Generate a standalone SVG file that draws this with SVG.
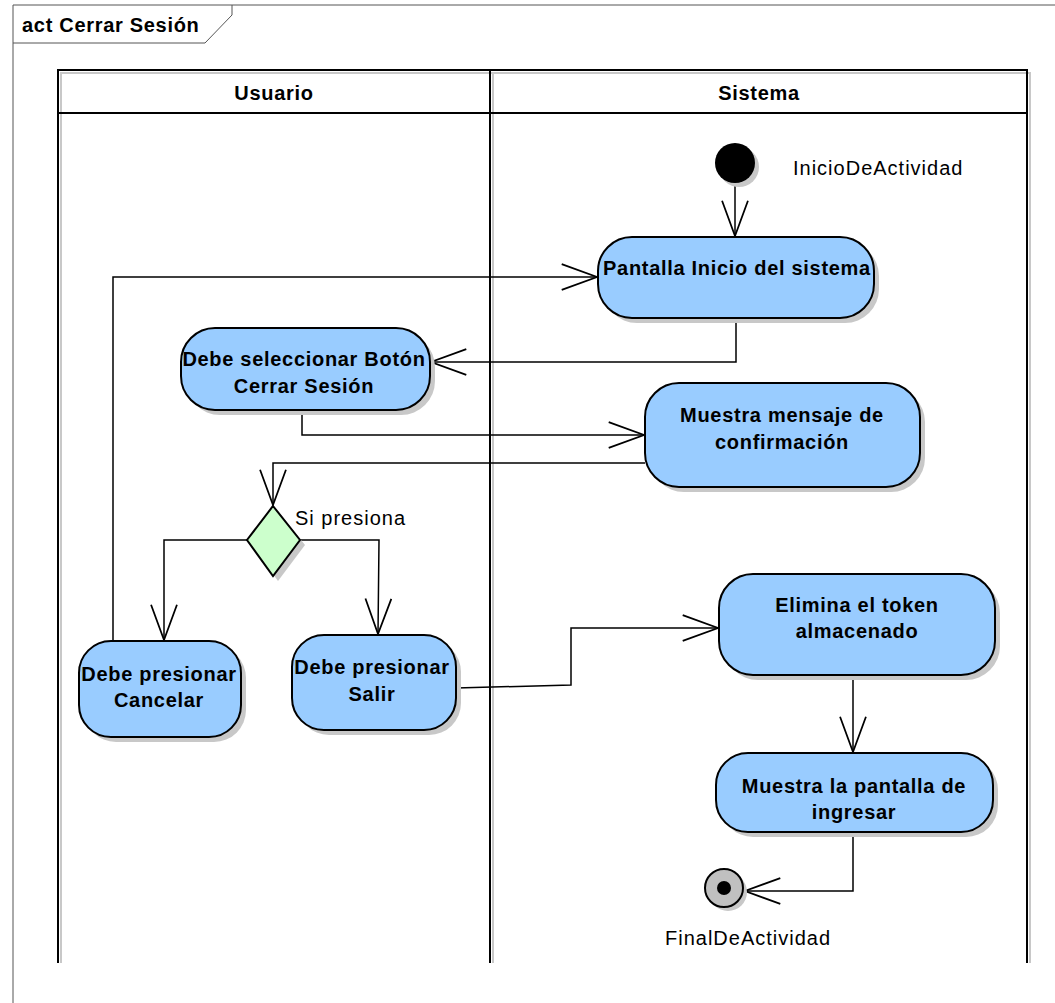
<svg xmlns="http://www.w3.org/2000/svg" width="1055" height="1003" viewBox="0 0 1055 1003">
  <defs>
    <marker id="open" markerUnits="userSpaceOnUse" markerWidth="40" markerHeight="30" refX="0" refY="0" viewBox="-32 -12 34 24" orient="auto" overflow="visible">
      <path d="M -30,-11 L 0,0 L -30,11" fill="none" stroke="#000" stroke-width="1.5"/>
    </marker>
  </defs>
  <style>
    text { font-family: "Liberation Sans", Arial, sans-serif; fill: #000; }
    .bold { font-weight: bold; font-size: 20px; letter-spacing: 0.7px; }
    .label { font-size: 20px; letter-spacing: 1px; }
    .act { fill: #99CCFF; stroke: #000; stroke-width: 2; }
    .shadow { fill: #C8C8C8; stroke: none; }
    .edge { fill: none; stroke: #000; stroke-width: 1.5; marker-end: url(#open); }
    .lane { fill: none; stroke: #000; stroke-width: 2; }
    .laneShadow { fill: none; stroke: #C8C8C8; stroke-width: 2; }
  </style>
  <rect width="1055" height="1003" fill="#fff"/>

  <!-- diagram frame with its name tab -->
  <g id="frame">
    <path d="M 13,1003 L 13,5 L 1055,5" fill="none" stroke="#555" stroke-width="1"/>
    <path d="M 13,43 L 205,43 L 232,15 L 232,5" fill="none" stroke="#555" stroke-width="1"/>
    <text x="22" y="32" class="bold">act Cerrar Sesión</text>
  </g>

  <!-- swimlanes -->
  <g id="lanes">
    <path d="M 61,963 L 61,73 L 1030,73 L 1030,963" class="laneShadow"/>
    <path d="M 493,963 L 493,73" class="laneShadow"/>
    <path d="M 58,963 L 58,70 L 1027,70 L 1027,963" class="lane"/>
    <line x1="58" y1="113" x2="1027" y2="113" class="lane"/>
    <line x1="490" y1="70" x2="490" y2="963" class="lane"/>
    <text x="274" y="100" class="bold" text-anchor="middle">Usuario</text>
    <text x="759" y="100" class="bold" text-anchor="middle">Sistema</text>
  </g>

  <!-- control flows -->
  <g id="connectors">
    <path class="edge" d="M 735,183 L 735,236"/>
    <path class="edge" d="M 113,641 L 113,277 L 597,277"/>
    <path class="edge" d="M 736,318 L 736,362 L 431,362"/>
    <path class="edge" d="M 302,410 L 302,435 L 644,435"/>
    <path class="edge" d="M 645,463 L 273,463 L 273,505"/>
    <path class="edge" d="M 247,540 L 164,540 L 164,640"/>
    <path class="edge" d="M 300,540 L 379,540 L 378,634"/>
    <path class="edge" d="M 456,688 L 571,685 L 571,628 L 718,628"/>
    <path class="edge" d="M 853,675 L 853,752"/>
    <path class="edge" d="M 853,832 L 853,891 L 745,891"/>
  </g>

  <!-- nodes -->
  <g id="start">
    <circle cx="739" cy="167" r="20" class="shadow"/>
    <circle cx="735" cy="163" r="20" fill="#000"/>
    <text x="793" y="175" class="label">InicioDeActividad</text>
  </g>

  <g id="pantallaInicio">
    <rect x="603" y="242" width="276" height="81" rx="34" class="shadow"/>
    <rect x="598" y="237" width="276" height="81" rx="34" class="act"/>
    <text x="737" y="275" class="bold" text-anchor="middle">Pantalla Inicio del sistema</text>
  </g>

  <g id="seleccionarBoton">
    <rect x="186" y="333" width="249" height="82" rx="34" class="shadow"/>
    <rect x="181" y="328" width="249" height="82" rx="34" class="act"/>
    <text x="304" y="366" class="bold" text-anchor="middle">Debe seleccionar Botón</text>
    <text x="304" y="393" class="bold" text-anchor="middle">Cerrar Sesión</text>
  </g>

  <g id="mensajeConfirmacion">
    <rect x="650" y="388" width="275" height="104" rx="34" class="shadow"/>
    <rect x="645" y="383" width="275" height="104" rx="34" class="act"/>
    <text x="782" y="422" class="bold" text-anchor="middle">Muestra mensaje de</text>
    <text x="782" y="449" class="bold" text-anchor="middle">confirmación</text>
  </g>

  <g id="decision">
    <polygon points="278,511 305,545 278,581 252,545" class="shadow"/>
    <polygon points="273,506 300,540 273,576 247,540" fill="#CCFFCC" stroke="#000" stroke-width="2"/>
    <text x="295" y="525" class="label">Si presiona</text>
  </g>

  <g id="presionarCancelar">
    <rect x="84" y="646" width="162" height="96" rx="32" class="shadow"/>
    <rect x="79" y="641" width="162" height="96" rx="32" class="act"/>
    <text x="159" y="681" class="bold" text-anchor="middle">Debe presionar</text>
    <text x="159" y="707" class="bold" text-anchor="middle">Cancelar</text>
  </g>

  <g id="presionarSalir">
    <rect x="297" y="640" width="164" height="95" rx="32" class="shadow"/>
    <rect x="292" y="635" width="164" height="95" rx="32" class="act"/>
    <text x="372" y="674" class="bold" text-anchor="middle">Debe presionar</text>
    <text x="372" y="701" class="bold" text-anchor="middle">Salir</text>
  </g>

  <g id="eliminaToken">
    <rect x="724" y="579" width="276" height="101" rx="34" class="shadow"/>
    <rect x="719" y="574" width="276" height="101" rx="34" class="act"/>
    <text x="857" y="612" class="bold" text-anchor="middle">Elimina el token</text>
    <text x="857" y="638" class="bold" text-anchor="middle">almacenado</text>
  </g>

  <g id="pantallaIngresar">
    <rect x="721" y="758" width="277" height="79" rx="32" class="shadow"/>
    <rect x="716" y="753" width="277" height="79" rx="32" class="act"/>
    <text x="854" y="793" class="bold" text-anchor="middle">Muestra la pantalla de</text>
    <text x="854" y="819" class="bold" text-anchor="middle">ingresar</text>
  </g>

  <g id="final">
    <circle cx="728" cy="892" r="19" class="shadow"/>
    <circle cx="724" cy="888" r="19" fill="#C0C0C0" stroke="#000" stroke-width="2"/>
    <circle cx="724" cy="888" r="7" fill="#000"/>
    <text x="665" y="945" class="label">FinalDeActividad</text>
  </g>
</svg>
